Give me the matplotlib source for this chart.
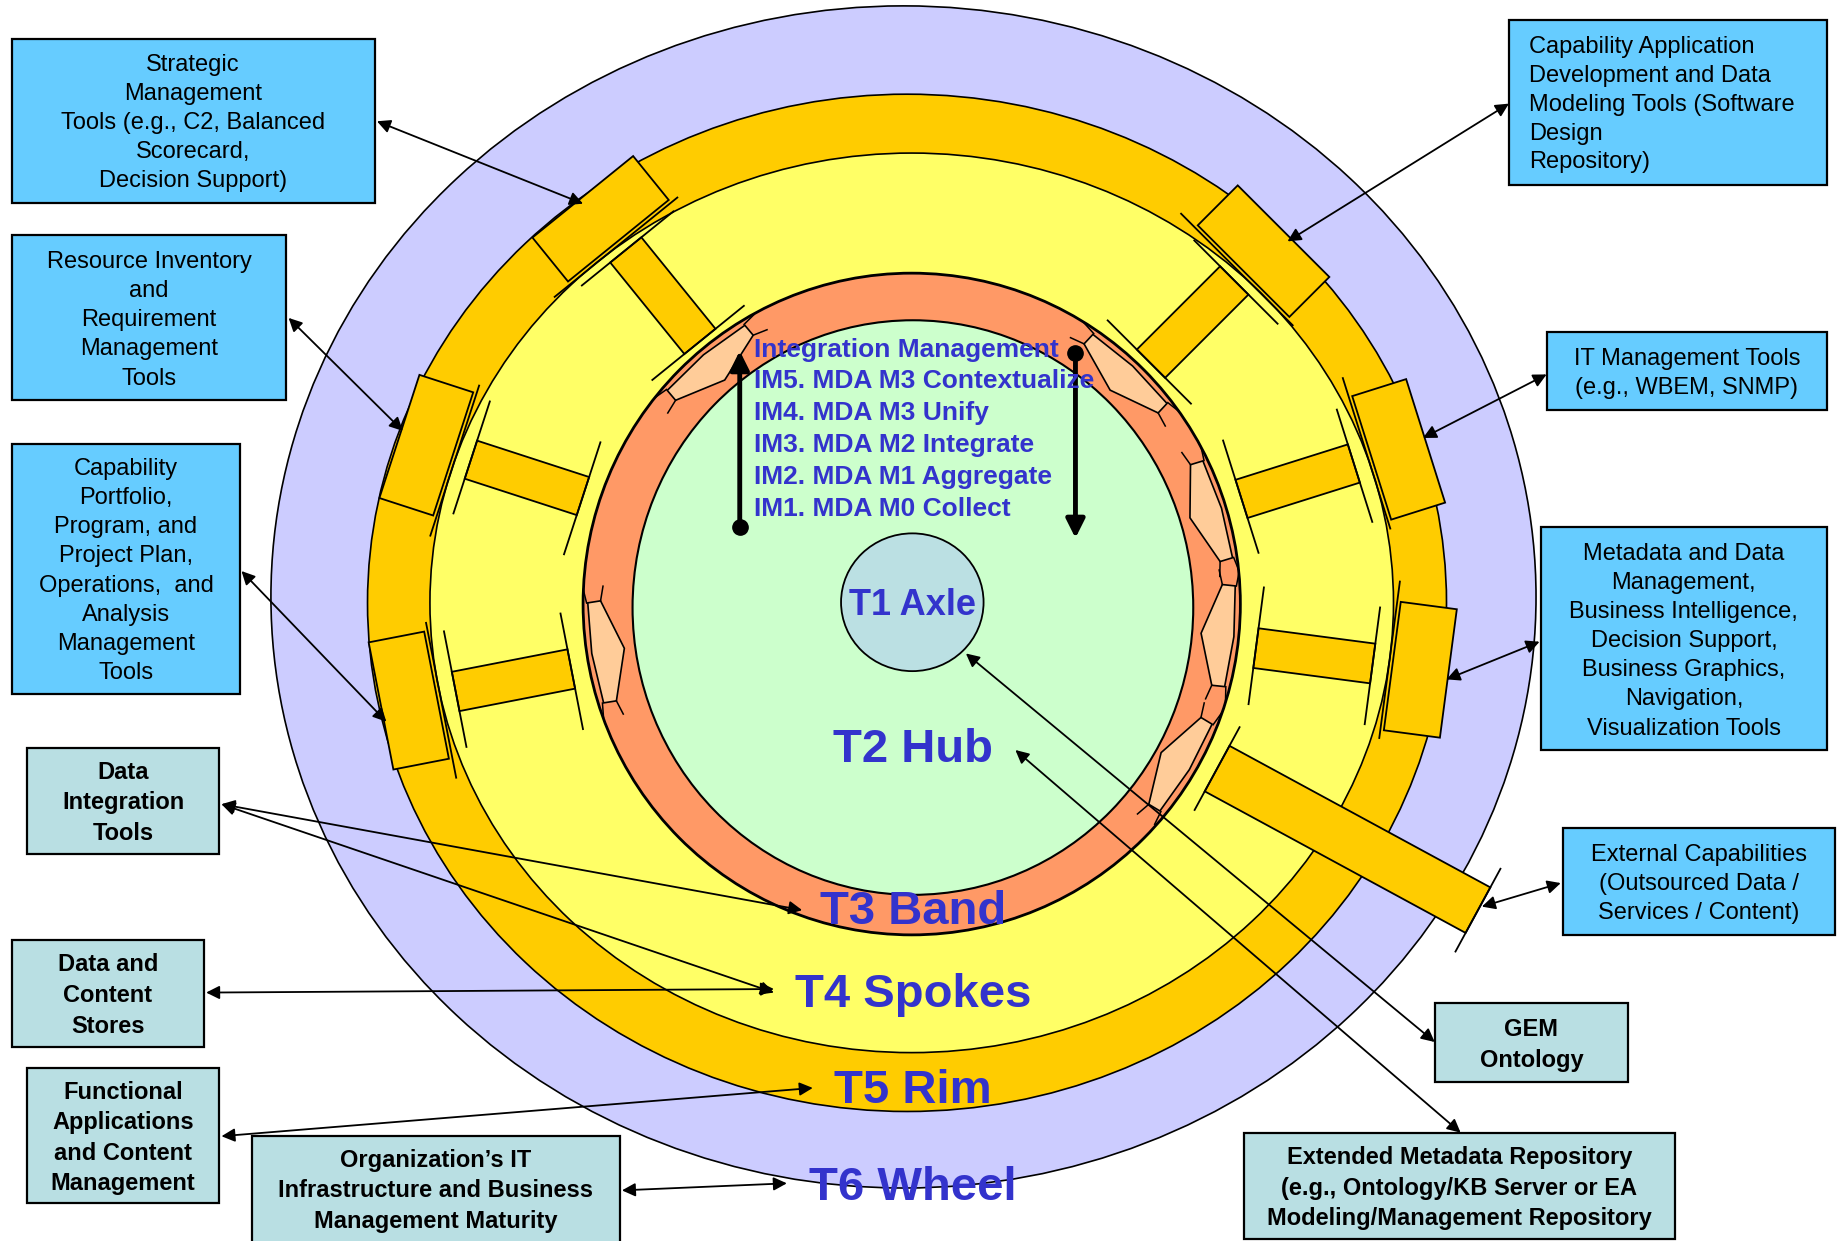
import numpy as np
import matplotlib
matplotlib.use("Agg")
import matplotlib.pyplot as plt
from matplotlib.patches import Ellipse, Polygon, Rectangle

plt.rcParams['font.family'] = ['Liberation Sans', 'DejaVu Sans']

# ---- content -------------------------------------------------------------
ring_labels = ["T1 Axle", "T2 Hub", "T3 Band", "T4 Spokes", "T5 Rim", "T6 Wheel"]
ring_label_y = [514, 637, 775, 845, 927, 1009]

im_lines = ["Integration Management",
            "IM5. MDA M3 Contextualize",
            "IM4. MDA M3 Unify",
            "IM3. MDA M2 Integrate",
            "IM2. MDA M1 Aggregate",
            "IM1. MDA M0 Collect"]

box_texts = [
    "Strategic\nManagement\nTools (e.g., C2, Balanced\nScorecard,\nDecision Support)",
    "Resource Inventory\nand\nRequirement\nManagement\nTools",
    "Capability\nPortfolio,\nProgram, and\nProject Plan,\nOperations,  and\nAnalysis\nManagement\nTools",
    "Data\nIntegration\nTools",
    "Data and\nContent\nStores",
    "Functional\nApplications\nand Content\nManagement",
    "Organization\u2019s IT\nInfrastructure and Business\nManagement Maturity",
    "Extended Metadata Repository\n(e.g., Ontology/KB Server or EA\nModeling/Management Repository",
    "GEM\nOntology",
    "External Capabilities\n(Outsourced Data /\nServices / Content)",
    "Metadata and Data\nManagement,\nBusiness Intelligence,\nDecision Support,\nBusiness Graphics,\nNavigation,\nVisualization Tools",
    "IT Management Tools\n(e.g., WBEM, SNMP)",
    "Capability Application\nDevelopment and Data\nModeling Tools (Software\nDesign\nRepository)",
]
# x0, y0, x1, y1 (image pixels of the 1568 wide layout)
box_rects = [(10, 33, 318, 172), (10, 200, 243, 340), (10, 377, 204, 589),
             (23, 635, 186, 725), (10, 798, 173, 889), (23, 907, 186, 1022),
             (214, 965, 526, 1062), (1056, 962, 1422, 1052), (1218, 852, 1382, 919),
             (1327, 703, 1558, 794), (1308, 448, 1551, 637), (1313, 282, 1551, 348),
             (1281, 17, 1551, 157)]
box_kind = ["blue", "blue", "blue", "teal", "teal", "teal", "teal", "teal", "teal",
            "blue", "blue", "blue", "blue"]

# connectors (both ends arrowed)
links = [((320, 103), (495, 173)), ((245, 270), (342, 366)), ((205, 485), (328, 613)),
         ((188, 683), (681, 773)), ((188, 683), (657, 843)), ((175, 843), (657, 840)),
         ((188, 965), (690, 924)), ((528, 1011), (668, 1005)), ((1240, 962), (862, 637)),
         ((1218, 885), (820, 555)), ((1325, 750), (1258, 770)), ((1307, 545), (1228, 577)),
         ((1313, 318), (1208, 372)), ((1281, 88), (1093, 205))]

spoke_angles = [129, 162, 191, 45, 17.5, -7.5]
bar_angle = -28.5
hex_angles = [130, 47, 17, -6, -31, 189]

# ---- colours -------------------------------------------------------------
C_WHEEL = "#CCCCFF"
C_RIM = "#FFCC00"
C_YEL = "#FFFF66"
C_BAND = "#FF9966"
C_HUB = "#CCFFCC"
C_AXLE = "#BBE0E3"
C_HEX = "#FFCC99"
C_BLUE = "#66CCFF"
C_TEAL = "#B9DFE3"
C_TXT = "#3333CC"

W, H = 1568, 1054
fig = plt.figure(figsize=(18.47, 12.41), dpi=100)
ax = fig.add_axes([0, 0, 1, 1])
ax.set_xlim(0, W)
ax.set_ylim(H, 0)
ax.axis('off')

CX, CY = 774, 512


def P(theta, r, s=0.0):
    th = np.radians(theta)
    ux, uy = np.cos(th), -np.sin(th)
    tx, ty = np.sin(th), np.cos(th)
    return (CX + r * ux + s * tx, CY + r * uy + s * ty)


def rect(theta, d, a, b, fc, z):
    pts = [P(theta, d - a, -b), P(theta, d + a, -b), P(theta, d + a, b), P(theta, d - a, b)]
    ax.add_patch(Polygon(pts, closed=True, fc=fc, ec='black', lw=1.3, zorder=z))


def seg(p0, p1, z, lw=1.3):
    ax.plot([p0[0], p1[0]], [p0[1], p1[1]], color='black', lw=lw, zorder=z)


def rim_r(theta, a=436, b=410):
    th = np.radians(theta)
    return 1 / np.sqrt((np.cos(th) / a) ** 2 + (np.sin(th) / b) ** 2)


# rings
rings = [((767, 507), 537, 502, C_WHEEL), ((770, 512), 458, 432, C_RIM),
         ((774, 512), 409, 382, C_YEL)]
for (c, rx, ry, col) in rings:
    ax.add_patch(Ellipse(c, 2 * rx, 2 * ry, fc=col, ec='black', lw=1.2, zorder=1))

# spokes (inside yellow) and rim blocks
for ang in spoke_angles:
    d = rim_r(ang, 345, 330)
    rect(ang, d, 50, 17, C_RIM, 3)
    seg(P(ang, d + 50, -48), P(ang, d + 50, 52), 3)
    seg(P(ang, d - 50, -52), P(ang, d - 50, 48), 3)
    dr = rim_r(ang)
    rect(ang, dr, 24, 55, C_RIM, 4)
    seg(P(ang, dr - 27, -72), P(ang, dr - 27, 62), 4)

# long bar out to the wheel
rect(bar_angle, 421, 126, 22, C_RIM, 5)
seg(P(bar_angle, 295, -40), P(bar_angle, 295, 40), 5)
seg(P(bar_angle, 547, -40), P(bar_angle, 547, 40), 5)

# band and hub
ax.add_patch(Ellipse((774, 513), 558, 562, fc=C_BAND, ec='black', lw=2, zorder=6))

# bent hexagons in the band: narrow flat ends, wide middle
hl, hw, he = 86, 28, 11
r_out = 275
for ang in hex_angles:
    sag = (hl / 2) ** 2 / (2 * r_out)
    loc = [(-hl / 2, -sag), (0, 0), (hl / 2, -sag),
           (hl / 2, -sag - he), (0, -hw), (-hl / 2, -sag - he)]
    pts = [P(ang, r_out + n, s) for s, n in loc]
    ax.add_patch(Polygon(pts, closed=True, fc=C_HEX, ec='black', lw=1.2, zorder=7))
    for sgn in (-1, 1):
        seg(P(ang, r_out - sag + 1, sgn * hl / 2), P(ang, r_out - sag + 2, sgn * (hl / 2 + 12)), 7, 1.1)
        seg(P(ang, r_out - sag - he, sgn * hl / 2), P(ang, r_out - sag - he - 4, sgn * (hl / 2 + 12)), 7, 1.1)

ax.add_patch(Ellipse((775, 516), 476, 488, fc=C_HUB, ec='black', lw=1.5, zorder=8))
ax.add_patch(Ellipse((774.5, 511.5), 121, 117, fc=C_AXLE, ec='black', lw=1.3, zorder=9))

# ring labels
for lab, y in zip(ring_labels, ring_label_y):
    fs = 26 if lab == "T1 Axle" else 34
    ax.text(775, y, lab, ha='center', va='center', fontsize=fs, fontweight='bold',
            color=C_TXT, zorder=12)

# integration management list
for i, line in enumerate(im_lines):
    ax.text(640, 297 + 27 * i, line, ha='left', va='center', fontsize=19,
            fontweight='bold', color=C_TXT, zorder=12)

# up / down arrows in the hub
ax.annotate("", xy=(628, 298), xytext=(628, 448),
            arrowprops=dict(arrowstyle='-|>', lw=3.5, color='black', mutation_scale=28,
                            shrinkA=0, shrinkB=0), zorder=11)
ax.annotate("", xy=(913, 457), xytext=(913, 300),
            arrowprops=dict(arrowstyle='-|>', lw=3.5, color='black', mutation_scale=28,
                            shrinkA=0, shrinkB=0), zorder=11)
ax.plot([628, 913], [448, 300], 'o', color='black', ms=11, ls='none', zorder=11)

# boxes
for txt, (x0, y0, x1, y1), kind in zip(box_texts, box_rects, box_kind):
    fc = C_BLUE if kind == "blue" else C_TEAL
    ax.add_patch(Rectangle((x0, y0), x1 - x0, y1 - y0, fc=fc, ec='black', lw=1.6, zorder=14))
    yc = (y0 + min(y1, H)) / 2 + 2
    if txt.startswith("Capability Application"):
        ax.text(x0 + 17, yc, txt, ha='left', va='center', fontsize=17,
                linespacing=1.40, zorder=15)
    else:
        ax.text((x0 + x1) / 2, yc, txt, ha='center', va='center', fontsize=17,
                fontweight='bold' if kind == "teal" else 'normal',
                linespacing=1.42, multialignment='center', zorder=15)

# connectors
for p0, p1 in links:
    ax.annotate("", xy=p1, xytext=p0,
                arrowprops=dict(arrowstyle='<|-|>', lw=1.3, color='black',
                                mutation_scale=20, shrinkA=0, shrinkB=0), zorder=13)

fig.savefig("out.png", dpi=100)
